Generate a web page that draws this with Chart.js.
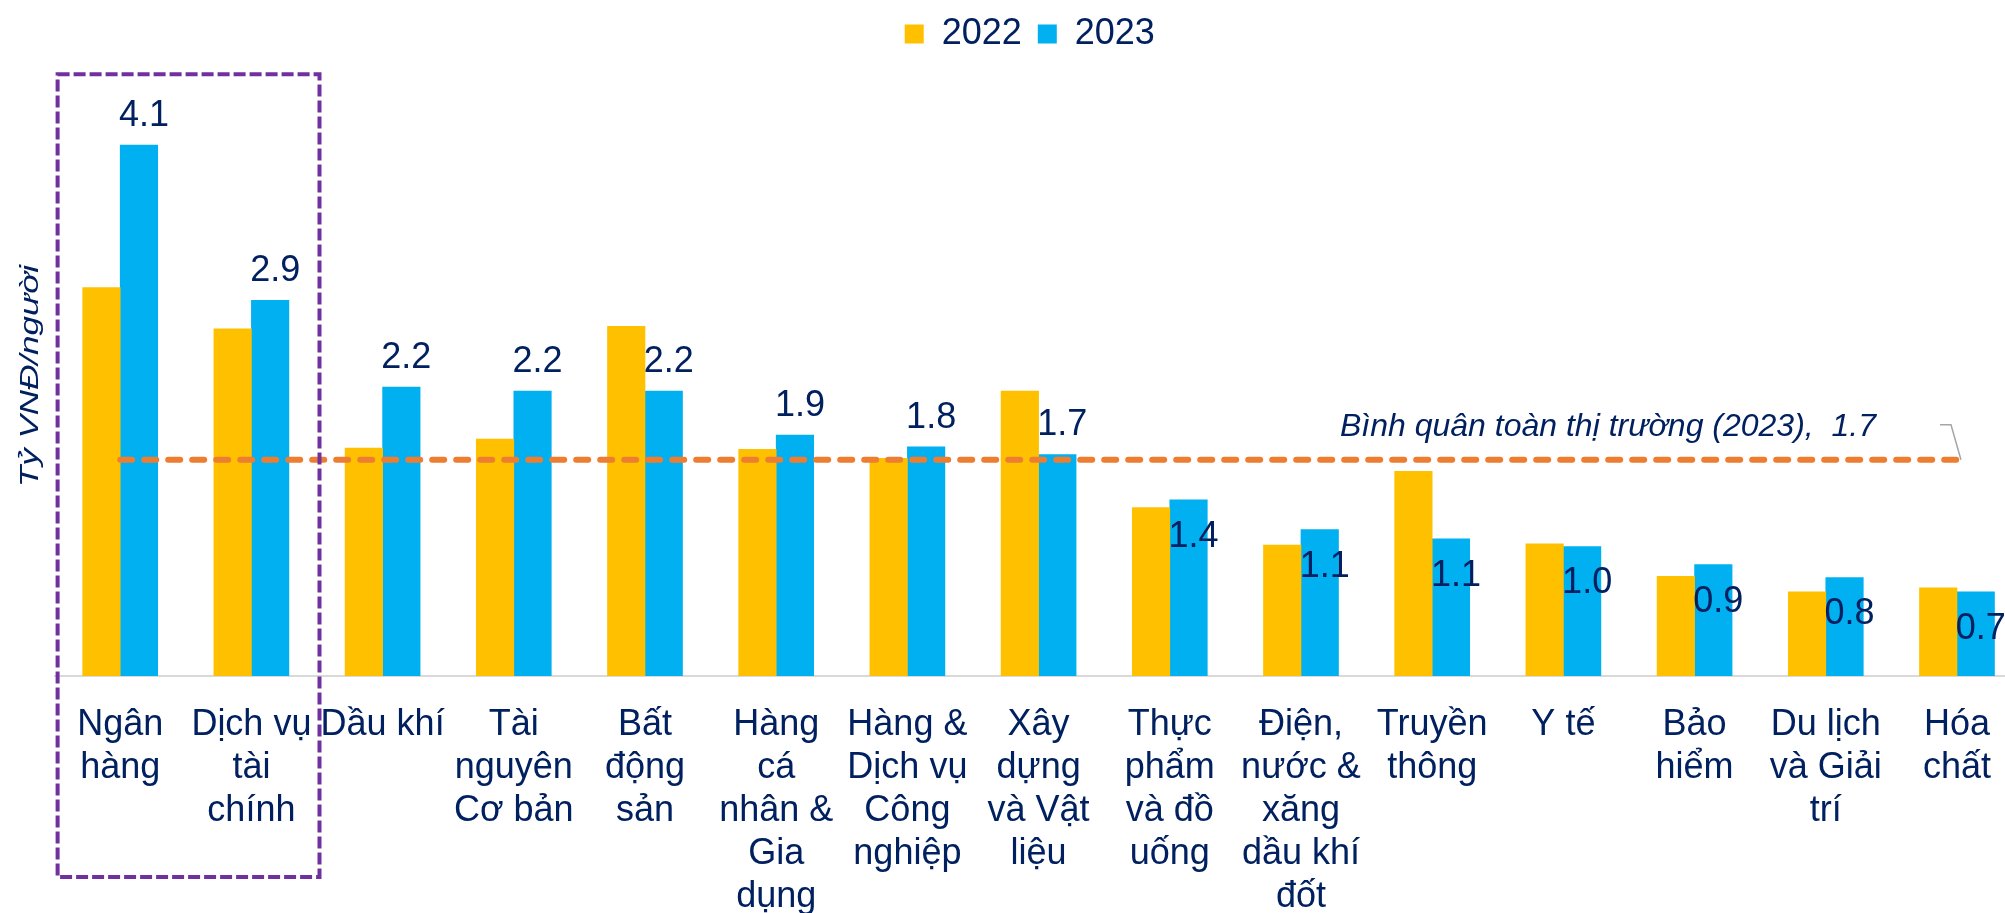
<!DOCTYPE html>
<html>
<head>
<meta charset="utf-8">
<script src="https://cdn.jsdelivr.net/npm/chart.js@4.4.1/dist/chart.umd.min.js"></script>
<style>
html,body{margin:0;padding:0;background:#ffffff;overflow:hidden}
#wrap{position:relative;width:2005px;height:913px}
</style>
</head>
<body>
<div id="wrap"><canvas id="c"></canvas></div>
<script>
// ---------- data ----------
const categories = [
  "Ngân hàng", "Dịch vụ tài chính", "Dầu khí", "Tài nguyên Cơ bản", "Bất động sản",
  "Hàng cá nhân & Gia dụng", "Hàng & Dịch vụ Công nghiệp", "Xây dựng và Vật liệu",
  "Thực phẩm và đồ uống", "Điện, nước & xăng dầu khí đốt", "Truyền thông", "Y tế",
  "Bảo hiểm", "Du lịch và Giải trí", "Hóa chất"
];
const tickLabels = [
  ["Ngân", "hàng"],
  ["Dịch vụ", "tài", "chính"],
  ["Dầu khí"],
  ["Tài", "nguyên", "Cơ bản"],
  ["Bất", "động", "sản"],
  ["Hàng", "cá", "nhân &", "Gia", "dụng"],
  ["Hàng &", "Dịch vụ", "Công", "nghiệp"],
  ["Xây", "dựng", "và Vật", "liệu"],
  ["Thực", "phẩm", "và đồ", "uống"],
  ["Điện,", "nước &", "xăng", "dầu khí", "đốt"],
  ["Truyền", "thông"],
  ["Y tế"],
  ["Bảo", "hiểm"],
  ["Du lịch", "và Giải", "trí"],
  ["Hóa", "chất"]
];
const seriesNames = ["2022", "2023"];
const values2022 = [3.00, 2.68, 1.76, 1.83, 2.70, 1.75, 1.68, 2.20, 1.30, 1.01, 1.58, 1.02, 0.77, 0.65, 0.68];
const values2023 = [4.10, 2.90, 2.23, 2.20, 2.20, 1.86, 1.77, 1.71, 1.36, 1.13, 1.06, 1.00, 0.86, 0.76, 0.65];
const labels2023 = ["4.1", "2.9", "2.2", "2.2", "2.2", "1.9", "1.8", "1.7", "1.4", "1.1", "1.1", "1.0", "0.9", "0.8", "0.7"];
const marketAverage2023 = 1.67;
const marketAverageText = "Bình quân toàn thị trường (2023),  1.7";
const yAxisTitle = "Tỷ VNĐ/người";
const highlightedFrom = 0, highlightedTo = 1; // categories inside the purple box

// ---------- style ----------
const NAVY = "#002060";
const YELLOW = "#FFC000";
const BLUE = "#00B0F0";
const ORANGE = "#ED7D31";
const PURPLE = "#7030A0";
const FONT = '"Liberation Sans", Arial, sans-serif';
const LABEL_INSIDE_FROM = 8;
const Y_MAX = 4.741;
const X_MAX = 14.366;

const toPoints = arr => arr.map((v, i) => ({ x: i, y: v }));
const lastIdx = categories.length - 1;

const extras = {
  id: "extras",
  afterDatasetsDraw(chart) {
    const { ctx } = chart;
    const meta = chart.getDatasetMeta(1);
    ctx.save();
    ctx.font = "36px " + FONT;
    ctx.fillStyle = NAVY;
    ctx.textAlign = "center";
    ctx.textBaseline = "middle";
    meta.data.forEach((bar, i) => {
      const ty = i < LABEL_INSIDE_FROM ? bar.y - 29 : bar.y + 37;
      ctx.fillText(labels2023[i], bar.x + 5, ty);
    });
    // average annotation with leader line
    const lm = chart.getDatasetMeta(2);
    const last = lm.data[lm.data.length - 1];
    ctx.strokeStyle = "#A6A6A6";
    ctx.lineWidth = 1.5;
    ctx.beginPath();
    ctx.moveTo(last.x + 4, last.y);
    ctx.lineTo(last.x - 6, last.y - 35);
    ctx.lineTo(last.x - 17, last.y - 35);
    ctx.stroke();
    ctx.font = "italic 32px " + FONT;
    ctx.textAlign = "right";
    ctx.fillText(marketAverageText, last.x - 81, last.y - 33);
    ctx.restore();
  },
  afterDraw(chart) {
    const { ctx, scales: { x, y }, chartArea } = chart;
    ctx.save();
    // purple dashed highlight box
    const x1 = x.getPixelForValue(highlightedFrom - 0.5) + 3;
    const x2 = x.getPixelForValue(highlightedTo + 0.5) + 2.5;
    const y1 = y.getPixelForValue(4.646);
    const y2 = chartArea.bottom + 201;
    ctx.strokeStyle = PURPLE;
    ctx.lineWidth = 4;
    ctx.setLineDash([12, 4]);
    ctx.strokeRect(x1, y1, x2 - x1, y2 - y1);
    ctx.setLineDash([]);
    // y-axis title (rotated)
    ctx.translate(38, 376);
    ctx.rotate(-Math.PI / 2);
    ctx.scale(1.4, 1);
    ctx.font = "italic 25px " + FONT;
    ctx.fillStyle = NAVY;
    ctx.textAlign = "center";
    ctx.textBaseline = "alphabetic";
    ctx.fillText(yAxisTitle, 0, 0);
    ctx.restore();
  }
};

new Chart(document.getElementById("c"), {
  type: "bar",
  data: {
    datasets: [
      { label: seriesNames[0], data: toPoints(values2022), backgroundColor: YELLOW, borderWidth: 0, barThickness: 37.5 },
      { label: seriesNames[1], data: toPoints(values2023), backgroundColor: BLUE, borderWidth: 0, barThickness: 37.5 },
      {
        type: "line", label: "avg", order: -1,
        data: [{ x: 0, y: marketAverage2023 }, { x: lastIdx, y: marketAverage2023 }],
        borderColor: ORANGE, borderWidth: 6, borderDash: [12, 12], borderCapStyle: "round",
        pointRadius: 0, fill: false
      }
    ]
  },
  options: {
    responsive: true,
    maintainAspectRatio: false,
    animation: false,
    layout: { padding: { left: 54.6, right: 0, top: 0, bottom: 0 } },
    plugins: {
      tooltip: { enabled: false },
      legend: {
        position: "top",
        fullSize: false,
        labels: {
          boxWidth: 19, boxHeight: 19, padding: 16, color: NAVY,
          font: { size: 36, family: FONT },
          filter: item => item.datasetIndex < 2
        }
      }
    },
    scales: {
      x: {
        type: "linear",
        min: -0.5,
        max: X_MAX,
        offset: false,
        grid: { display: false, drawTicks: true, tickLength: 27, offset: false },
        border: { display: true, color: "#D9D9D9", width: 2 },
        afterBuildTicks: s => { s.ticks = categories.map((_, i) => ({ value: i })); },
        afterFit: s => { s.height = 237; },
        ticks: {
          autoSkip: false, maxRotation: 0, minRotation: 0, padding: 0,
          color: NAVY, font: { size: 36, family: FONT, lineHeight: 1.2 },
          callback: (v) => tickLabels[v]
        }
      },
      y: { display: false, min: 0, max: Y_MAX }
    }
  },
  plugins: [extras]
});
</script>
</body>
</html>
